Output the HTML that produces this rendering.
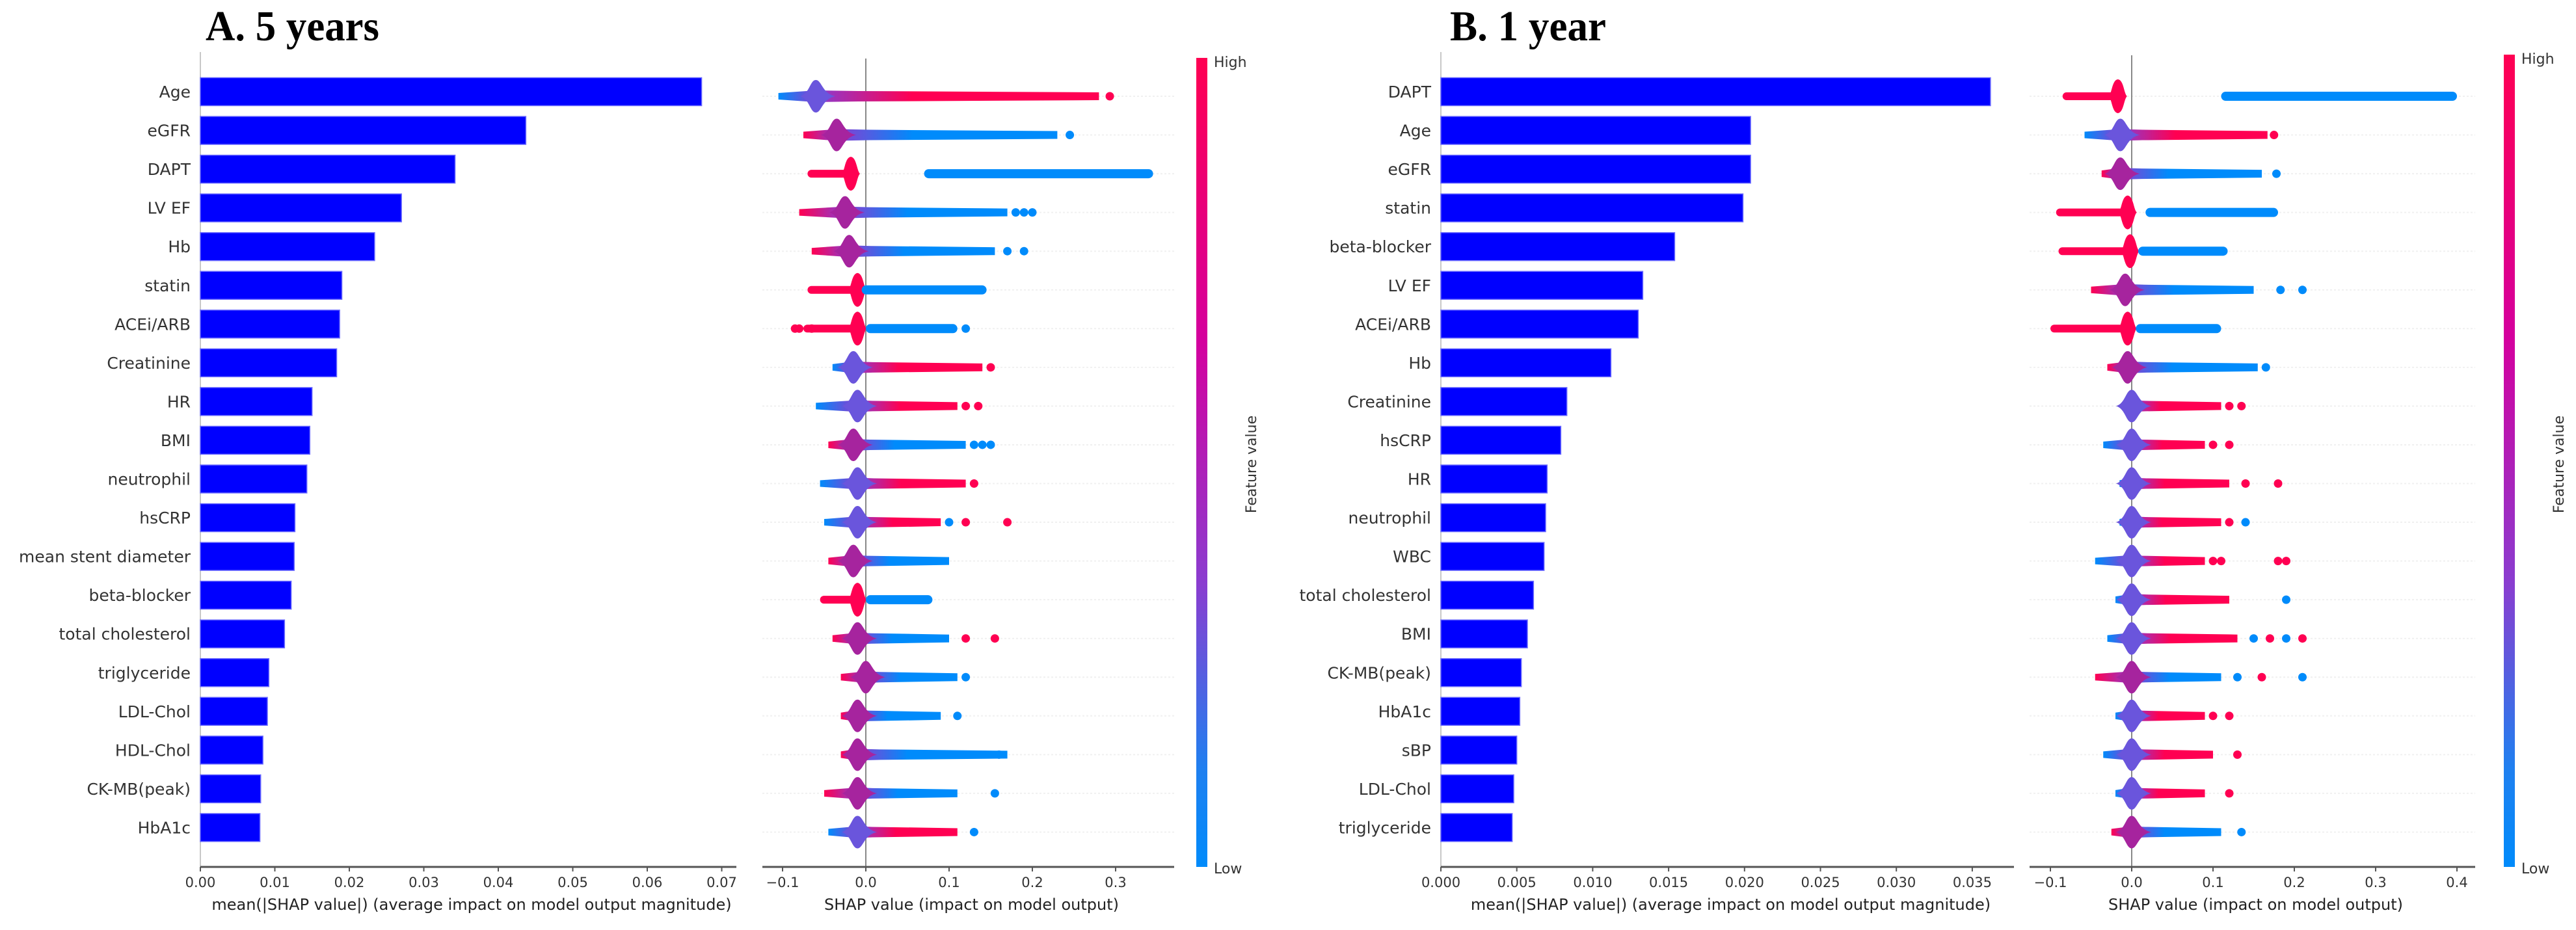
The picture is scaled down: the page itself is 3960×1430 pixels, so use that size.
<!DOCTYPE html>
<html><head><meta charset="utf-8">
<style>
html,body{margin:0;padding:0;background:#fff;}
svg{display:block;}
text{font-family:"DejaVu Sans","Liberation Sans",sans-serif;}
</style></head>
<body>
<svg id="fig" width="3960" height="1430" viewBox="0 0 3960 1430" xmlns="http://www.w3.org/2000/svg">
<defs>
<linearGradient id="cbar" x1="0" y1="0" x2="0" y2="1">
<stop offset="0" stop-color="#ff0052"/><stop offset="0.35" stop-color="#d4009e"/><stop offset="0.65" stop-color="#8a3dd0"/><stop offset="0.88" stop-color="#1f80f0"/><stop offset="1" stop-color="#008bfb"/>
</linearGradient>
</defs>
<text x="316" y="62" font-weight="bold" font-size="66" textLength="267" lengthAdjust="spacingAndGlyphs" style="font-family:'Liberation Serif',serif">A. 5 years</text>
<text x="2229" y="62" font-weight="bold" font-size="66" textLength="240" lengthAdjust="spacingAndGlyphs" style="font-family:'Liberation Serif',serif">B. 1 year</text>
</svg>
<script>
// ---------- Panel A data ----------
const featuresA = ["Age","eGFR","DAPT","LV EF","Hb","statin","ACEi/ARB","Creatinine","HR","BMI","neutrophil","hsCRP","mean stent diameter","beta-blocker","total cholesterol","triglyceride","LDL-Chol","HDL-Chol","CK-MB(peak)","HbA1c"];
const barA = [0.0673,0.0437,0.0342,0.0270,0.0234,0.0190,0.0187,0.0183,0.0150,0.0147,0.0143,0.0127,0.0126,0.0122,0.0113,0.0092,0.0090,0.0084,0.0081,0.0080];
const loA = [-0.105,-0.075,-0.07,-0.08,-0.065,-0.07,-0.075,-0.04,-0.06,-0.045,-0.055,-0.05,-0.045,-0.055,-0.04,-0.03,-0.03,-0.03,-0.05,-0.045];
const hiA = [0.28,0.23,0.345,0.17,0.155,0.145,0.11,0.14,0.11,0.12,0.12,0.09,0.10,0.08,0.10,0.11,0.09,0.17,0.11,0.11];
const ctrA = [-0.06,-0.035,-0.018,-0.025,-0.02,-0.01,-0.01,-0.015,-0.01,-0.015,-0.01,-0.01,-0.015,-0.01,-0.01,0.0,-0.01,-0.01,-0.01,-0.01];
const typeA = ["r","b","bin","b","b","bin","bin","r","r","b","r","r","b","bin","b","b","b","b","b","r"];
const splitA = [0,0,0.07,0,0,-0.005,0.0,0,0,0,0,0,0,0.0,0,0,0,0,0,0];
const outA = [[0.293],[0.245],[],[0.18,0.19,0.20],[0.17,0.19],[],[-0.085,-0.08,-0.065,0.12],[0.15],[0.12,0.135],[0.13,0.14,0.15],[0.13],[0.10,0.12,0.17],[],[],[0.12,0.155],[0.12],[0.11],[0.16],[0.155],[0.13]];
const outColA = [["r"],["b"],[],["b","b","b"],["b","b"],[],["r","r","r","b"],["r"],["r","r"],["b","b","b"],["r"],["b","r","r"],[],[],["r","r"],["b"],["b"],["b"],["b"],["b"]];
const ticksBarA = [0,0.01,0.02,0.03,0.04,0.05,0.06,0.07];
const tickLabBarA = ["0.00","0.01","0.02","0.03","0.04","0.05","0.06","0.07"];
const ticksSwA = [-0.1,0,0.1,0.2,0.3];
const tickLabSwA = ["\u22120.1","0.0","0.1","0.2","0.3"];

// ---------- Panel B data ----------
const featuresB = ["DAPT","Age","eGFR","statin","beta-blocker","LV EF","ACEi/ARB","Hb","Creatinine","hsCRP","HR","neutrophil","WBC","total cholesterol","BMI","CK-MB(peak)","HbA1c","sBP","LDL-Chol","triglyceride"];
const barB = [0.0362,0.0204,0.0204,0.0199,0.0154,0.0133,0.0130,0.0112,0.0083,0.0079,0.0070,0.0069,0.0068,0.0061,0.0057,0.0053,0.0052,0.0050,0.0048,0.0047];
const loB = [-0.085,-0.058,-0.037,-0.093,-0.09,-0.05,-0.10,-0.03,-0.01,-0.035,-0.015,-0.015,-0.045,-0.02,-0.03,-0.045,-0.02,-0.035,-0.02,-0.025];
const hiB = [0.40,0.167,0.16,0.18,0.118,0.15,0.11,0.155,0.11,0.09,0.12,0.11,0.09,0.12,0.13,0.11,0.09,0.10,0.09,0.11];
const ctrB = [-0.017,-0.014,-0.014,-0.005,-0.002,-0.008,-0.005,-0.005,0,0,0,0,0,0,0,0,0,0,0,0];
const typeB = ["bin","r","b","bin","bin","b","bin","b","r","r","r","r","r","r","r","b","r","r","r","b"];
const splitB = [0.11,0,0,0.017,0.008,0,0.005,0,0,0,0,0,0,0,0,0,0,0,0,0];
const outB = [[],[0.175],[0.178],[],[],[0.183,0.21],[],[0.165],[0.12,0.135],[0.10,0.12],[0.14,0.18],[0.12,0.14],[0.10,0.11,0.18,0.19],[0.19],[0.15,0.17,0.19,0.21],[0.13,0.16,0.21],[0.10,0.12],[0.13],[0.12],[0.135]];
const outColB = [[],["r"],["b"],[],[],["b","b"],[],["b"],["r","r"],["r","r"],["r","r"],["r","b"],["r","r","r","r"],["b"],["b","r","b","r"],["b","r","b"],["r","r"],["r"],["r"],["b"]];
const ticksBarB = [0,0.005,0.01,0.015,0.02,0.025,0.03,0.035];
const tickLabBarB = ["0.000","0.005","0.010","0.015","0.020","0.025","0.030","0.035"];
const ticksSwB = [-0.1,0,0.1,0.2,0.3,0.4];
const tickLabSwB = ["\u22120.1","0.0","0.1","0.2","0.3","0.4"];

const NS = "http://www.w3.org/2000/svg";
const svg = document.getElementById("fig");
const RED = "#ff0052", BLUE = "#008bfb", PURP = "#8a3dd0";
let gid = 0;
function mk(tag, attrs, parent) {
  const e = document.createElementNS(NS, tag);
  for (const k in attrs) e.setAttribute(k, attrs[k]);
  (parent || svg).appendChild(e);
  return e;
}
function rowY(i) { return 141 + i * 59.55; }
const AXY = 1333;

function panel(cfg) {
  const g = mk("g", {});
  
  
  const bx = v => cfg.bx0 + v * cfg.bscale;
  const sx = v => cfg.sx0 + v * cfg.sscale;
  const yl = mk("line", {x1: cfg.bx0, y1: 80, x2: cfg.bx0, y2: AXY, stroke: "#c8c8c8", "stroke-width": 2}, g);
  
  
  cfg.features.forEach((f, i) => {
    const y = rowY(i);
    const r = mk("rect", {x: cfg.bx0, y: y - 21.5, width: bx(cfg.bars[i]) - cfg.bx0, height: 43, fill: "#0000ff", stroke: "#6b6bff", "stroke-width": 1.5}, g);
    
    
    const t = mk("text", {x: cfg.bx0 - 15, y: y + 9, "text-anchor": "end", "font-size": 25, fill: "#333"}, g);
    t.textContent = f;
    
    
  });
  const xa = mk("line", {x1: cfg.bx0, y1: AXY, x2: cfg.bxEnd, y2: AXY, stroke: "#555", "stroke-width": 3}, g);
  
  
  cfg.bticks.forEach((v, k) => {
    mk("line", {x1: bx(v), y1: AXY, x2: bx(v), y2: AXY + 7, stroke: "#555", "stroke-width": 2}, g);
    const t = mk("text", {x: bx(v), y: AXY + 31, "text-anchor": "middle", "font-size": 21, fill: "#333"}, g);
    t.textContent = cfg.btickLab[k];
    
    
  });
  const bt = mk("text", {x: (cfg.bx0 + cfg.bxEnd) / 2 + 5, y: 1399, "text-anchor": "middle", "font-size": 24, fill: "#222"}, g);
  bt.textContent = "mean(|SHAP value|) (average impact on model output magnitude)";
  
  

  cfg.features.forEach((f, i) => {
    mk("line", {x1: cfg.sxStart, y1: rowY(i) + 7, x2: cfg.sxEnd, y2: rowY(i) + 7, stroke: "#f0f0f0", "stroke-width": 2, "stroke-dasharray": "3 3"}, g);
  });
  const zl = mk("line", {x1: sx(0), y1: cfg.zTop, x2: sx(0), y2: AXY, stroke: "#888", "stroke-width": 2}, g);
  
  
  cfg.features.forEach((f, i) => {
    const y = rowY(i) + 7;
    const sg = mk("g", {}, g);
    
    
    const lo = sx(cfg.lo[i]), hi = sx(cfg.hi[i]), c = sx(cfg.ctr[i]);
    const ty = cfg.type[i];
    if (ty === "bin") {
      mk("rect", {x: lo, y: y - 6, width: c + 8 - lo, height: 12, rx: 6, fill: RED}, sg);
      mk("path", {d: `M${c-14},${y} C${c-9},${y-5} ${c-9},${y-25} ${c},${y-26} C${c+9},${y-25} ${c+9},${y-5} ${c+14},${y} C${c+9},${y+5} ${c+9},${y+25} ${c},${y+26} C${c-9},${y+25} ${c-9},${y+5} ${c-14},${y} Z`, fill: RED}, sg);
      const bs = sx(cfg.split[i]);
      mk("rect", {x: bs, y: y - 7, width: hi - bs, height: 14, rx: 7, fill: BLUE}, sg);
    } else {
      const id = "tg" + (gid++);
      const lg = mk("linearGradient", {id: id, gradientUnits: "userSpaceOnUse", x1: lo, y1: 0, x2: hi, y2: 0}, sg);
      const far = ty === "r" ? RED : BLUE, near = ty === "r" ? BLUE : RED;
      const pc = Math.max(0, Math.min(1, (c - lo) / Math.max(1, hi - lo)));
      mk("stop", {offset: 0, "stop-color": near}, lg);
      mk("stop", {offset: pc, "stop-color": PURP}, lg);
      mk("stop", {offset: Math.min(1, pc + 0.3), "stop-color": far}, lg);
      mk("stop", {offset: 1, "stop-color": far}, lg);
      const mid = c + (hi - c) * 0.15;
      mk("path", {d: `M${lo},${y-5} L${c},${y-9} L${mid},${y-8} L${hi},${y-6} L${hi},${y+6} L${mid},${y+8} L${c},${y+9} L${lo},${y+5} Z`, fill: `url(#${id})`}, sg);
      const w = 24, h = 25;
      mk("path", {d: `M${c-w},${y} C${c-w*0.4},${y-4} ${c-9},${y-h} ${c},${y-h} C${c+9},${y-h} ${c+w*0.4},${y-4} ${c+w+6},${y} C${c+w*0.4},${y+4} ${c+9},${y+h} ${c},${y+h} C${c-9},${y+h} ${c-w*0.4},${y+4} ${c-w},${y} Z`, fill: ty === "r" ? "#6a55dc" : "#a6249e"}, sg);
    }
    cfg.out[i].forEach((v, k) => {
      const p = mk("circle", {cx: sx(v), cy: y, r: 6.5, fill: cfg.outCol[i][k] === "r" ? RED : BLUE}, sg);
      
      
    });
  });
  const sa = mk("line", {x1: cfg.sxStart, y1: AXY, x2: cfg.sxEnd, y2: AXY, stroke: "#555", "stroke-width": 3}, g);
  
  
  cfg.sticks.forEach((v, k) => {
    mk("line", {x1: sx(v), y1: AXY, x2: sx(v), y2: AXY + 7, stroke: "#555", "stroke-width": 2}, g);
    const t = mk("text", {x: sx(v), y: AXY + 31, "text-anchor": "middle", "font-size": 21, fill: "#333"}, g);
    t.textContent = cfg.stickLab[k];
    
    
  });
  const st = mk("text", {x: (cfg.sxStart + cfg.sxEnd) / 2 + 5, y: 1399, "text-anchor": "middle", "font-size": 24, fill: "#222"}, g);
  st.textContent = "SHAP value (impact on model output)";
  
  
  const cb = mk("rect", {x: cfg.cbX, y: cfg.cbTop, width: 17, height: AXY - cfg.cbTop, fill: "url(#cbar)"}, g);
  
  
  const hiT = mk("text", {x: cfg.cbX + 27, y: cfg.cbTop + 14, "font-size": 22, fill: "#333"}, g);
  hiT.textContent = "High";
  
  
  const loT = mk("text", {x: cfg.cbX + 27, y: AXY + 10, "font-size": 22, fill: "#333"}, g);
  loT.textContent = "Low";
  
  
  const fv = mk("text", {x: 0, y: 0, "text-anchor": "middle", "font-size": 22, fill: "#333", transform: `translate(${cfg.cbX + 92},714) rotate(-90)`}, g);
  fv.textContent = "Feature value";
  
  
}

panel({name: "panel-a-5-years", features: featuresA, bars: barA, bx0: 308, bscale: 11450, bxEnd: 1132,
  bticks: ticksBarA, btickLab: tickLabBarA, sx0: 1331, sscale: 1280, sxStart: 1172, sxEnd: 1805, zTop: 90,
  lo: loA, hi: hiA, ctr: ctrA, type: typeA, split: splitA, out: outA, outCol: outColA,
  sticks: ticksSwA, stickLab: tickLabSwA, cbX: 1839, cbTop: 89});
panel({name: "panel-b-1-year", features: featuresB, bars: barB, bx0: 2215, bscale: 23340, bxEnd: 3096,
  bticks: ticksBarB, btickLab: tickLabBarB, sx0: 3277, sscale: 1250, sxStart: 3120, sxEnd: 3805, zTop: 85,
  lo: loB, hi: hiB, ctr: ctrB, type: typeB, split: splitB, out: outB, outCol: outColB,
  sticks: ticksSwB, stickLab: tickLabSwB, cbX: 3849, cbTop: 84});
</script>
</body></html>
